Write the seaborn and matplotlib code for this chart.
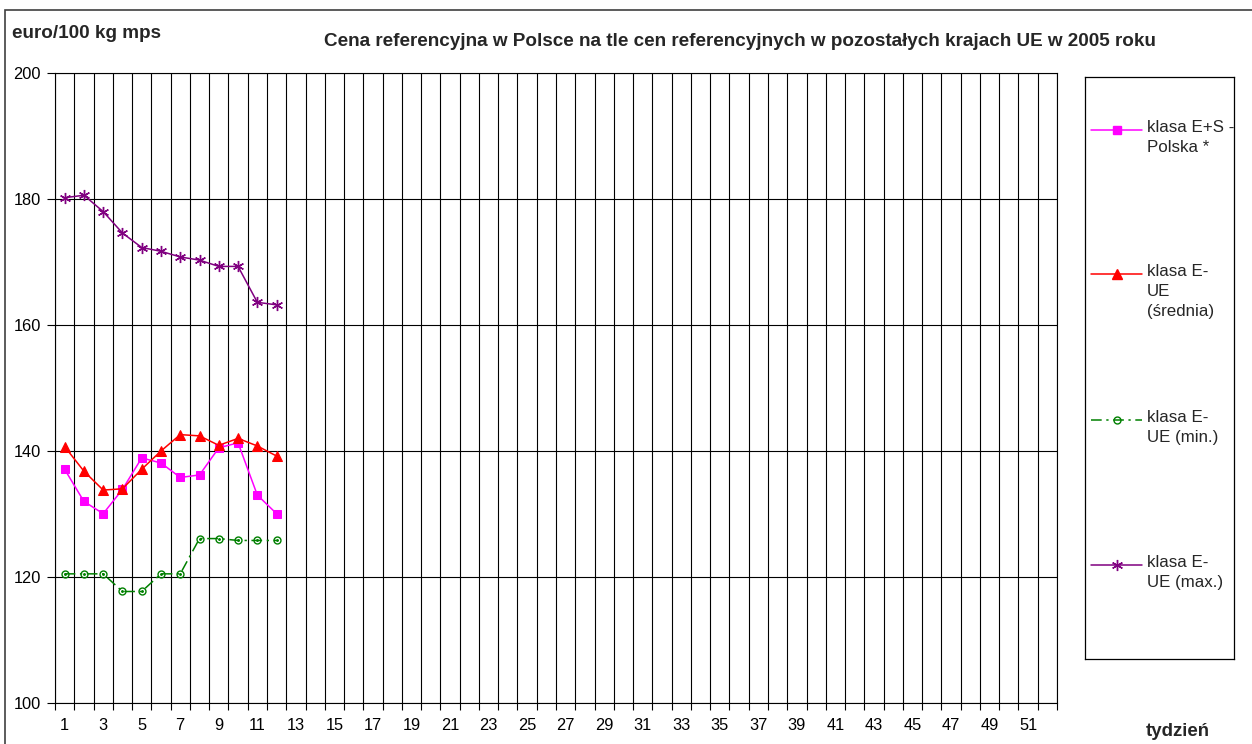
import matplotlib
matplotlib.use("Agg")
import matplotlib.pyplot as plt
from matplotlib.lines import Line2D
from matplotlib.patches import Rectangle
import seaborn as sns
import numpy as np
import pandas as pd

# ---- data ----
weeks = list(range(1, 13))
es_polska = [137.1, 132.0, 130.05, 133.9, 138.9, 138.1, 135.8, 136.2, 140.5, 141.3, 133.0, 130.05]
e_ue_srednia = [140.7, 136.8, 133.8, 134.0, 137.1, 140.0, 142.6, 142.4, 140.9, 142.0, 140.8, 139.2]
e_ue_min = [120.5, 120.5, 120.5, 117.7, 117.7, 120.5, 120.5, 126.1, 126.1, 125.8, 125.8, 125.8]
e_ue_max = [180.2, 180.6, 178.0, 174.6, 172.3, 171.7, 170.8, 170.3, 169.3, 169.3, 163.6, 163.2]
labels = ["klasa E+S -\nPolska *", "klasa E-\nUE\n(średnia)", "klasa E-\nUE (min.)", "klasa E-\nUE (max.)"]
x_tick_labels = [str(i) for i in range(1, 52, 2)]
y_ticks = [100, 120, 140, 160, 180, 200]

sns.set_theme(style="white")
plt.rcParams['font.family'] = ['Liberation Sans', 'DejaVu Sans']

fig = plt.figure(figsize=(12.52, 7.44), dpi=100)
W, H = 1252, 744
ax = fig.add_axes([55 / W, 1 - 703 / H, (1057 - 55) / W, (703 - 73) / H])

styles = [
    dict(color="#FF00FF", marker="s", markersize=5.5, markerfacecolor="#FF00FF", markeredgecolor="#FF00FF", linestyle="-", linewidth=1.1),
    dict(color="#FF0000", marker="^", markersize=6.5, markerfacecolor="#FF0000", markeredgecolor="#FF0000", linestyle="-", linewidth=1.1),
    dict(color="#008000", marker="o", markersize=5, markerfacecolor="none", markeredgecolor="#008000", markeredgewidth=1.0, linestyle=(0, (7, 3, 1.5, 3)), linewidth=1.1),
    dict(color="#800080", marker=(6, 2, 0), markersize=8, markerfacecolor="#800080", markeredgecolor="#800080", markeredgewidth=1.0, linestyle="-", linewidth=1.1),
]
series = [es_polska, e_ue_srednia, e_ue_min, e_ue_max]

for vals, st, lab in zip(series, styles, labels):
    sns.lineplot(x=weeks, y=vals, ax=ax, legend=False, zorder=3, **st)
# center dot on the min circles
sns.lineplot(x=weeks, y=e_ue_min, ax=ax, legend=False, linestyle="none", marker="o",
             markersize=1.3, color="#008000", markeredgecolor="#008000", zorder=4)

ax.set_xlim(0.5, 52.5)
ax.set_ylim(100, 200)
ax.set_xticks(range(1, 52, 2))
ax.set_xticklabels(x_tick_labels)
ax.set_xticks(np.arange(0.5, 53, 1), minor=True)
ax.set_yticks(y_ticks)
ax.set_yticklabels([str(v) for v in y_ticks])
ax.tick_params(axis="x", which="major", length=0, pad=11, labelsize=11.8, colors="black")
ax.tick_params(axis="x", which="minor", length=5, width=0.8, color="black", direction="out", bottom=True)
ax.tick_params(axis="y", which="major", length=6, width=0.8, color="black", left=True, pad=4, labelsize=11.8, labelcolor="black")
ax.grid(False)
ax.grid(True, axis="x", which="minor", color="black", linewidth=0.8)
ax.grid(True, axis="y", which="major", color="black", linewidth=0.8)
for s in ax.spines.values():
    s.set_visible(True)
    s.set_color("black")
    s.set_linewidth(0.8)
ax.set_xlabel("")
ax.set_ylabel("")

# texts
fig.text(12 / W, 1 - 33 / H, "euro/100 kg mps", ha="left", va="center", fontsize=13.6, fontweight="bold")
fig.text(740 / W, 1 - 41 / H, "Cena referencyjna w Polsce na tle cen referencyjnych w pozostałych krajach UE w 2005 roku",
         ha="center", va="center", fontsize=13.6, fontweight="bold")
fig.text(1178 / W, 1 - 732 / H, "tydzień", ha="center", va="center", fontsize=13.4, fontweight="bold")

# outer border
fig.patches.append(Rectangle((5 / W, -0.05), 1.1, 1 - 10 / H + 0.05, transform=fig.transFigure,
                             fill=False, edgecolor="#404040", linewidth=1.2))

# legend box (manual, Excel-like)
lax = fig.add_axes([1085 / W, 1 - 659 / H, (1234 - 1085) / W, (659 - 77) / H])
lax.set_xlim(0, 149)
lax.set_ylim(659, 77)
lax.set_xticks([])
lax.set_yticks([])
for s in lax.spines.values():
    s.set_visible(True)
    s.set_color("black")
    s.set_linewidth(0.9)
entry_y = [130, 274, 420, 565]
for st, lab, yy in zip(styles, labels, entry_y):
    lst = dict(st)
    lax.add_line(Line2D([6, 57], [yy, yy], color=lst["color"], linestyle=lst["linestyle"], linewidth=1.1))
    lst.pop("linestyle")
    ms = lst.pop("markersize")
    lax.add_line(Line2D([31.5], [yy], linestyle="none", markersize=ms,
                        **{k: v for k, v in lst.items() if k != "linewidth"}))
    lax.text(62, yy - 10, lab, ha="left", va="top", fontsize=12.2, linespacing=1.42)

fig.savefig("out.png", dpi=100, facecolor="white")
